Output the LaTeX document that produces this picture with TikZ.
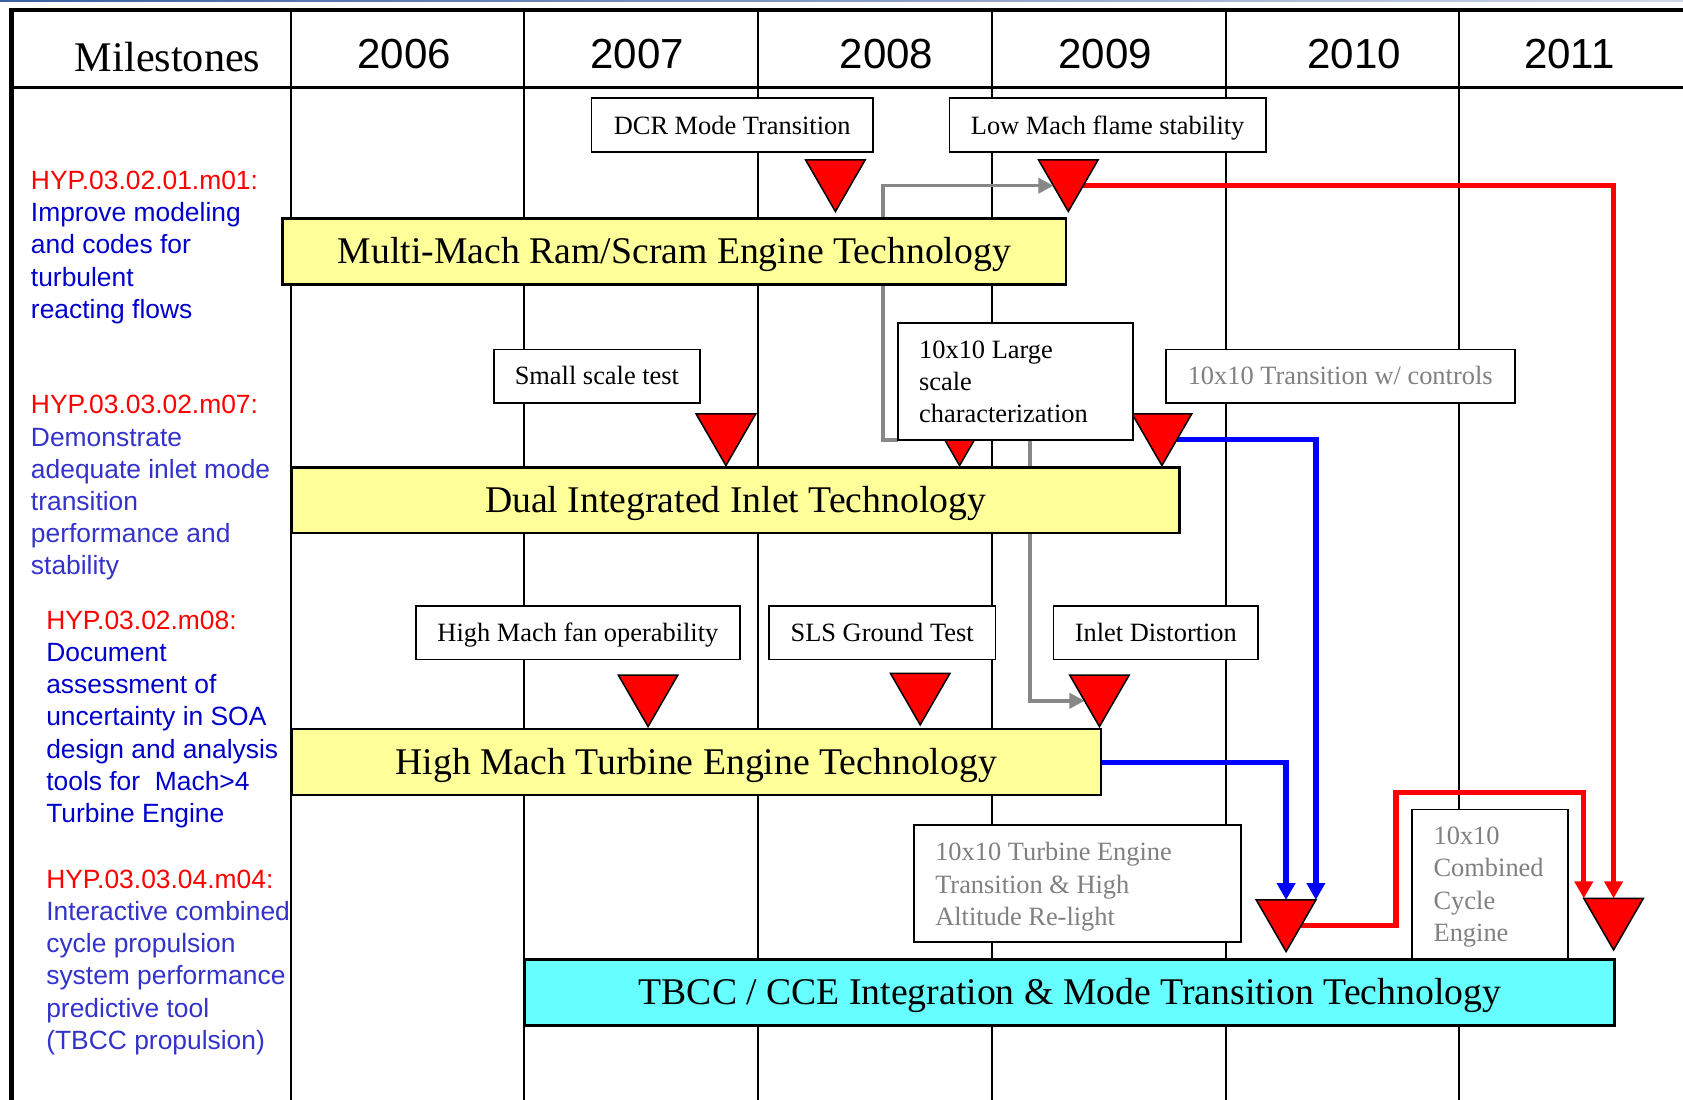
\documentclass[tikz,border=0pt]{standalone}
\usepackage{fontspec}
\setmainfont{Liberation Serif}
\setsansfont{Liberation Sans}
\usetikzlibrary{shapes.geometric,arrows.meta}
\definecolor{barY}{RGB}{255,255,153}
\definecolor{barC}{RGB}{102,255,255}
\definecolor{deepblue}{RGB}{0,0,204}
\definecolor{midblue}{RGB}{51,51,204}
\definecolor{mgray}{RGB}{135,135,135}
\definecolor{tgray}{RGB}{128,128,128}
\definecolor{topblue}{RGB}{60,95,160}
\pgfdeclarelayer{grid}
\pgfdeclarelayer{conn}
\pgfsetlayers{grid,conn,main}
\begin{document}
\begin{tikzpicture}[x=0.02cm,y=-0.02cm,
  gridline/.style={line width=1pt,black},
  bar/.style={draw=black,line width=1.2pt,inner sep=0pt,outer sep=0pt,
    font=\rmfamily\fontsize{20}{24}\selectfont,text height=13.24pt,text depth=0pt},
  ybar/.style={bar,fill=barY},
  cbar/.style={bar,fill=barC},
  mbox/.style={draw=black,fill=white,line width=0.9pt,inner sep=0pt,outer sep=0pt,
    font=\rmfamily\fontsize{14}{17}\selectfont,text height=9.27pt,text depth=0pt},
  gbox/.style={mbox,text=tgray},
  mtext/.style={inner sep=0pt,anchor=base west,font=\rmfamily\fontsize{14}{17.07}\selectfont},
  ltext/.style={inner sep=0pt,anchor=base west,font=\sffamily\fontsize{14}{17.07}\selectfont},
  yr/.style={inner sep=0pt,anchor=base,font=\sffamily\fontsize{22.3}{26}\selectfont},
  tri/.style={regular polygon,regular polygon sides=3,shape border rotate=180,
    minimum size=1.2818cm,inner sep=0pt,outer sep=0pt,fill=red,draw=black,line width=0.8pt},
  garrow/.style={draw=mgray,line width=1.9pt,line join=miter,-{Triangle[length=8pt,width=8pt]}},
  barrow/.style={draw=blue,line width=2.8pt,line join=miter,-{Triangle[length=9pt,width=9.5pt]}},
  rarrow/.style={draw=red,line width=2.8pt,line join=miter,-{Triangle[length=9pt,width=9.5pt]}}
]
\useasboundingbox (0,0) rectangle (1568,1024);

% grid
\begin{pgfonlayer}{grid}
\fill[white] (0,0) rectangle (1568,1024);
\shade[left color=topblue,right color=topblue!25] (0,0) rectangle (1568,1.4);
\foreach \x in {271,488.5,706.3,924.3,1141.8,1359}
  \draw[gridline] (\x,9.3) -- (\x,1030);
\draw[line width=1.2pt] (10.7,81.4) -- (1575,81.4);
\draw[line width=2.2pt,line join=miter] (10.7,1030) -- (10.7,9.3) -- (1575,9.3);
\end{pgfonlayer}

% header
\node[inner sep=0pt,anchor=base west,font=\rmfamily\fontsize{22.4}{26}\selectfont] (ms) at (69.5,67) {Milestones};
\node[yr] (y06) at (376.7,63.7) {2006};
\node[yr] (y07) at (593.6,63.7) {2007};
\node[yr] (y08) at (826,63.7) {2008};
\node[yr] (y09) at (1029.6,63.7) {2009};
\node[yr] (y10) at (1261.8,63.7) {2010};
\node[yr] (y11) at (1462,63.7) {2011};

% left column
\node[ltext,text=deepblue] (m1) at (28.5,176.5) {\begin{tabular}[t]{@{}l@{}}\color{red}HYP.03.02.01.m01:\\Improve modeling\\and codes for\\turbulent\\reacting flows\end{tabular}};
\node[ltext,text=midblue] (m2) at (28.5,385.7) {\begin{tabular}[t]{@{}l@{}}\color{red}HYP.03.03.02.m07:\\Demonstrate\\adequate inlet mode\\transition\\performance and\\stability\end{tabular}};
\node[ltext,text=deepblue] (m3) at (42.8,586.4) {\begin{tabular}[t]{@{}l@{}}\color{red}HYP.03.02.m08:\\Document\\assessment of\\uncertainty in SOA\\design and analysis\\tools for~ Mach>4\\Turbine Engine\end{tabular}};
\node[ltext,text=midblue] (m4) at (42.8,827.7) {\begin{tabular}[t]{@{}l@{}}\color{red}HYP.03.03.04.m04:\\Interactive combined\\cycle propulsion\\system performance\\predictive tool\\(TBCC propulsion)\end{tabular}};

% triangles
\node[tri] (t1) at (778.3,165.0) {};
\node[tri] (t2) at (995.3,165.0) {};
\node[tri] (t3) at (676.3,401.7) {};
\node[tri] (t4) at (894,401.7) {};
\node[tri] (t5) at (1082.5,401.7) {};
\node[tri] (t6) at (603.8,644.9) {};
\node[tri] (t7) at (857.3,643.3) {};
\node[tri] (t8) at (1024.3,644.9) {};
\node[tri] (t9) at (1198.2,854.5) {};
\node[tri] (t10) at (1503.3,853) {};

% bars
\node[ybar,minimum width=14.61cm,minimum height=1.23cm] (mm) at (628.25,234.25) {Multi-Mach Ram/Scram Engine Technology};
\node[ybar,minimum width=16.546cm,minimum height=1.22cm] (di) at (685.35,466) {Dual Integrated Inlet Technology};
\node[ybar,minimum width=15.076cm,minimum height=1.224cm] (hm) at (648.6,710.1) {High Mach Turbine Engine Technology};
\node[cbar,minimum width=20.302cm,minimum height=1.23cm] (tb) at (996.75,924.55) {TBCC / CCE Integration \& Mode Transition Technology};

% milestone boxes
\node[mbox,minimum width=5.242cm,minimum height=1.006cm] (dcr) at (682.15,116.75) {DCR Mode Transition};
\node[mbox,minimum width=5.89cm,minimum height=1.006cm] (lm) at (1031.95,116.75) {Low Mach flame stability};
\node[mbox,minimum width=3.844cm,minimum height=0.994cm] (ss) at (556.1,350.35) {Small scale test};
\node[mbox,minimum width=4.37cm,minimum height=2.188cm] (lg) at (946.05,355.3) {};
\node[gbox,minimum width=6.504cm,minimum height=0.994cm] (tw) at (1248.6,350.35) {10x10 Transition w/ controls};
\node[mbox,minimum width=6.032cm,minimum height=0.996cm] (hf) at (538.4,589.4) {High Mach fan operability};
\node[mbox,minimum width=4.226cm,minimum height=0.996cm] (sls) at (821.85,589.4) {SLS Ground Test};
\node[mbox,minimum width=3.81cm,minimum height=0.996cm] (id) at (1076.85,589.4) {Inlet Distortion};
\node[mbox,minimum width=6.09cm,minimum height=2.18cm] (te) at (1004.05,822.9) {};
\node[mbox,minimum width=2.902cm,minimum height=2.778cm] (cc) at (1388.15,823.55) {};

\node[mtext] (lgt) at (856,334) {\begin{tabular}[t]{@{}l@{}}10x10 Large\\scale\\characterization\end{tabular}};
\node[mtext,text=tgray] (tet) at (871,802) {\begin{tabular}[t]{@{}l@{}}10x10 Turbine Engine\\Transition \& High\\Altitude Re-light\end{tabular}};
\node[mtext,text=tgray] (cct) at (1335.3,787) {\begin{tabular}[t]{@{}l@{}}10x10\\Combined\\Cycle\\Engine\end{tabular}};

\coordinate (r2a) at (1300.5,738.5);

% connectors
\begin{pgfonlayer}{conn}
\draw[garrow] (lg.south west) -- ++(-14.4,0) |- (t2.side 3);
\draw[garrow] (lg.south west) ++(122.8,0) |- (t8.side 3);
\draw[barrow] (t5.side 1) -| (t9.corner 2);
\draw[barrow] (hm.east) -| (t9.side 2);
\draw[rarrow] (t2.side 1) -| (t10.side 2);
\draw[rarrow] (t9.side 1) -| (r2a) -| (t10.corner 3);
\end{pgfonlayer}
\end{tikzpicture}
\end{document}
